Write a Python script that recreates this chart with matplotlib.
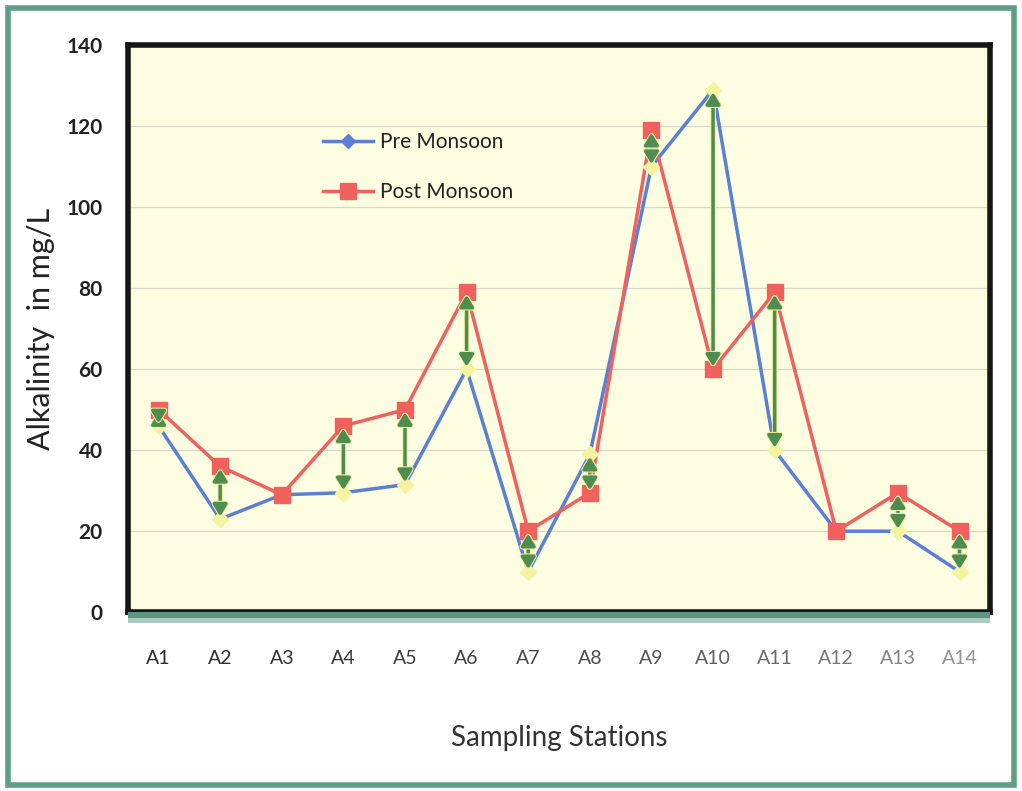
import matplotlib.pyplot as plt
import matplotlib.patheffects as pe
from matplotlib.patches import Rectangle
import numpy as np

# data
stations = ['A1', 'A2', 'A3', 'A4', 'A5', 'A6', 'A7', 'A8', 'A9', 'A10', 'A11', 'A12', 'A13', 'A14']
pre_monsoon = [46, 23, 29, 29.5, 31.5, 60, 10, 39, 110, 129, 40, 20, 20, 10]
post_monsoon = [50, 36, 29, 46, 50, 79, 20, 29.5, 119, 60, 79, 20, 29.5, 20]
label_greys = ['#2a2a2a', '#2e2e2e', '#333333', '#383838', '#3c3c3c', '#414141', '#464646',
               '#4c4c4c', '#555555', '#5e5e5e', '#6a6a6a', '#787878', '#858585', '#929292']

plt.rcParams['font.family'] = ['Lato', 'DejaVu Sans']

fig = plt.figure(figsize=(10.22, 7.91), dpi=100)
fig.patch.set_facecolor('white')
# green border round the whole picture
fig.patches.append(Rectangle((0.008, 0.008), 0.984, 0.982, transform=fig.transFigure,
                             fill=False, edgecolor='#5f9e86', linewidth=4))
# teal shadow under the plot frame
fig.patches.append(Rectangle((0.125, 0.212), 0.844, 0.014, transform=fig.transFigure,
                             facecolor='#a9cbc0', edgecolor='none'))
fig.patches.append(Rectangle((0.125, 0.219), 0.844, 0.007, transform=fig.transFigure,
                             facecolor='#5e9484', edgecolor='none'))

ax = fig.add_axes([0.125, 0.226, 0.844, 0.717])
ax.set_facecolor('#fdfde2')
x = np.arange(len(stations))

ax.plot(x, pre_monsoon, color='#5b7fd6', lw=2.5, marker='D', ms=7, mfc='#5b7fd6', mec='#5b7fd6',
        label='Pre Monsoon', zorder=3)
ax.plot(x, post_monsoon, color='#f0615e', lw=2.5, marker='s', ms=11, mfc='#f0615e', mec='#f0615e',
        label='Post Monsoon', zorder=4)

# pale yellow pre monsoon points and green double arrows
for xi, a, b in zip(x, pre_monsoon, post_monsoon):
    if abs(a - b) > 1:
        ax.plot(xi, a, marker='D', ms=8, color='#f3f3a0', zorder=5)
        d = 0.6 if b > a else -0.6
        ax.annotate('', xy=(xi, a + d), xytext=(xi, b - d),
                    arrowprops=dict(arrowstyle='<|-|>,head_length=0.5,head_width=0.3', color='#4e8c50',
                                    lw=2.5, mutation_scale=14, shrinkA=0, shrinkB=0,
                                    path_effects=[pe.Stroke(linewidth=4, foreground='#eef0a0'), pe.Normal()]),
                    zorder=6)

ax.set_xlim(-0.5, 13.5)
ax.set_ylim(0, 140)
ax.set_yticks(range(0, 141, 20))
ax.grid(axis='y', color='#d8d8c8', lw=0.9)
ax.set_axisbelow(True)
ax.set_xticks(x)
ax.set_xticklabels(stations)
for lab, c in zip(ax.get_xticklabels(), label_greys):
    lab.set_color(c)
ax.tick_params(axis='x', length=0, pad=27, labelsize=14)
ax.tick_params(axis='y', length=0, pad=18, labelsize=15, labelcolor='#222222')
for lab in ax.get_yticklabels():
    lab.set_fontweight('bold')

for s in ax.spines.values():
    s.set_linewidth(4)
    s.set_color('#161616')

ax.set_ylabel('Alkalinity  in mg/L', fontsize=22, color='#222222', labelpad=8)
ax.set_xlabel('Sampling Stations', fontsize=20, color='#333333', labelpad=42)

leg = ax.legend(loc='upper left', bbox_to_anchor=(0.205, 0.88), frameon=False, fontsize=15,
                handlelength=2.4, labelspacing=1.45, handletextpad=0.3)
for t in leg.get_texts():
    t.set_color('#222222')

plt.savefig('out.png', dpi=100)
